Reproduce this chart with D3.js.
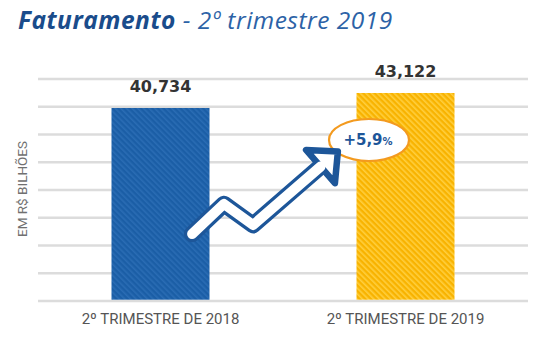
<!DOCTYPE html>
<html><head><meta charset="utf-8">
<script src="https://cdn.jsdelivr.net/npm/d3@7"></script>
<style>html,body{margin:0;padding:0;background:#fff;}svg{display:block;}</style>
</head><body>
<svg id="chart" width="536" height="340"></svg>
<script>
const categories = ["2º TRIMESTRE DE 2018", "2º TRIMESTRE DE 2019"];
const values = [40.734, 43.122];
const valueLabels = ["40,734", "43,122"];
const barColors = ["#1b5ea6", "#f8b300"];
const stripeColors = ["#2a6cb4", "#ffcf3f"];
const growthLabel = "+5,9";
const titleBold = "Faturamento";
const titleRest = " - 2º trimestre 2019";
const yAxisLabel = "EM R$ BILHÕES";
const yDomain = [10, 45.35];
const gridCount = 9;
// arrow annotation: x as fraction between bar centres, y in value units
const arrowT = [0.129, 0.259, 0.378, 0.724];
const arrowV = [20.67, 25.45, 22.10, 33.80];
const badgeT = 0.851, badgeV = 35.64;

const svg = d3.select("#chart");
const x = d3.scaleBand().domain(categories).range([38, 528]).paddingInner(0.6).paddingOuter(0.3);
const y = d3.scaleLinear().domain(yDomain).range([301, 79]);

const defs = svg.append("defs");
barColors.forEach((c, i) => {
  const p = defs.append("pattern").attr("id", "hatch" + i)
    .attr("width", 4).attr("height", 4).attr("patternUnits", "userSpaceOnUse")
    .attr("patternTransform", "rotate(-45)");
  p.append("rect").attr("width", 4).attr("height", 4).attr("fill", c);
  p.append("rect").attr("width", 1.6).attr("height", 4).attr("fill", stripeColors[i]);
});

// title
const title = svg.append("text").attr("x", 18).attr("y", 29)
  .attr("font-family", "'Open Sans', sans-serif").attr("font-size", 24.5).attr("font-style", "italic")
  .attr("letter-spacing", 0.5);
title.append("tspan").attr("font-weight", 700).attr("fill", "#1a4c8b").text(titleBold);
title.append("tspan").attr("font-weight", 400).attr("fill", "#2c62a6").text(titleRest);

// gridlines
const gridVals = d3.range(gridCount).map(i => yDomain[0] + i * (yDomain[1] - yDomain[0]) / (gridCount - 1));
svg.append("g").selectAll("line").data(gridVals).join("line")
  .attr("x1", 38).attr("x2", 528)
  .attr("y1", d => y(d)).attr("y2", d => y(d))
  .attr("stroke", "#dcdcdc").attr("stroke-width", 2.6);

// bars
svg.append("g").selectAll("rect").data(values).join("rect")
  .attr("x", (d, i) => x(categories[i])).attr("width", x.bandwidth())
  .attr("y", d => y(d)).attr("height", d => y(yDomain[0]) - y(d) - 1.3)
  .attr("fill", (d, i) => `url(#hatch${i})`);

// value labels
svg.append("g").selectAll("text").data(values).join("text")
  .attr("x", (d, i) => x(categories[i]) + x.bandwidth() / 2)
  .attr("y", d => y(d) - 16)
  .attr("text-anchor", "middle")
  .attr("font-family", "'DejaVu Sans', sans-serif").attr("font-weight", 700).attr("font-size", 16)
  .attr("fill", "#333").text((d, i) => valueLabels[i]);

// category labels
svg.append("g").selectAll("text").data(categories).join("text")
  .attr("x", d => x(d) + x.bandwidth() / 2).attr("y", 324)
  .attr("text-anchor", "middle")
  .attr("font-family", "Roboto, sans-serif").attr("font-size", 15)
  .attr("fill", "#555").text(d => d);

// y axis label
svg.append("text").attr("transform", `translate(27,189) rotate(-90)`)
  .attr("text-anchor", "middle").attr("font-family", "Roboto, sans-serif")
  .attr("font-size", 13.5).attr("font-weight", 400).attr("fill", "#707070").text(yAxisLabel);

// arrow
const c0 = x(categories[0]) + x.bandwidth() / 2, c1 = x(categories[1]) + x.bandwidth() / 2;
const px = t => c0 + t * (c1 - c0);
const pts = arrowT.map((t, i) => [px(t), y(arrowV[i])]);

// badge
const bx = px(badgeT), by = y(badgeV);
const badge = svg.append("g");
badge.append("ellipse").attr("cx", bx).attr("cy", by).attr("rx", 40).attr("ry", 21)
  .attr("fill", "#fff").attr("stroke", "#f39a1f").attr("stroke-width", 2.2);
const bt = badge.append("text").attr("x", bx - 1).attr("y", by + 5.5).attr("text-anchor", "middle")
  .attr("font-family", "'DejaVu Sans', sans-serif").attr("font-weight", 700).attr("fill", "#1d5699");
bt.append("tspan").attr("font-size", 15).text(growthLabel);
bt.append("tspan").attr("font-size", 10).text("%");

const tip = pts[3], prev = pts[2];
const dx = tip[0] - prev[0], dy = tip[1] - prev[1];
const len = Math.hypot(dx, dy);
const ux = dx / len, uy = dy / len;
const headLen = 23, headHalf = 22;
const base = [tip[0] - ux * headLen, tip[1] - uy * headLen];
const nx = -uy, ny = ux;
const head = [[tip[0], tip[1]], [base[0] + nx * headHalf, base[1] + ny * headHalf], [base[0] - nx * headHalf, base[1] - ny * headHalf]];
const shaft = [pts[0], pts[1], pts[2], base];
const line = d3.line();
const arrow = svg.append("g");
arrow.append("path").attr("d", line(shaft)).attr("fill", "none").attr("stroke", "#1d5699")
  .attr("stroke-width", 16.5).attr("stroke-linejoin", "round").attr("stroke-linecap", "round");
arrow.append("path").attr("d", line(head) + "Z").attr("fill", "#fff").attr("stroke", "#1d5699")
  .attr("stroke-width", 6.5).attr("stroke-linejoin", "round");
arrow.append("path").attr("d", line(shaft)).attr("fill", "none").attr("stroke", "#fff")
  .attr("stroke-width", 10).attr("stroke-linejoin", "round").attr("stroke-linecap", "round");
</script>
</body></html>
